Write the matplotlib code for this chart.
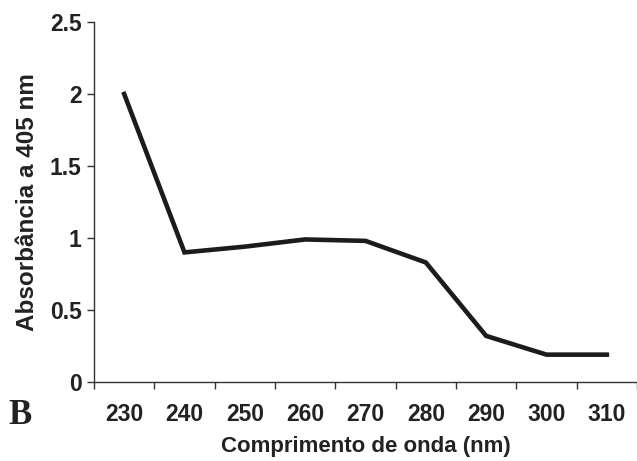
import matplotlib
matplotlib.use("Agg")
import matplotlib.pyplot as plt
import numpy as np

wavelengths = ["230", "240", "250", "260", "270", "280", "290", "300", "310"]
absorbance = [2.0, 0.90, 0.94, 0.99, 0.98, 0.83, 0.32, 0.19, 0.19]

plt.rcParams['font.family'] = ['Liberation Sans', 'DejaVu Sans']

fig = plt.figure(figsize=(6.37, 4.61), dpi=100)
ax = fig.add_axes([94/637, (461-382)/461, (637-94)/637, (382-22)/461])

x = np.arange(len(wavelengths))
ax.plot(x, absorbance, color='#1c1c1c', lw=3.3, solid_joinstyle='miter')

ax.set_xlim(-0.5, len(wavelengths) - 0.5)
ax.set_ylim(0, 2.5)

ax.set_xticks(np.arange(-0.5, len(wavelengths)), minor=False)
ax.set_xticklabels([])
ax.set_xticks(x, minor=True)
ax.set_xticklabels(wavelengths, minor=True, fontsize=16.5, fontweight='bold', color='#222222')
ax.tick_params(axis='x', which='minor', length=0, pad=15)
ax.tick_params(axis='x', which='major', length=5, width=1, direction='out', color='#333333')

ax.set_yticks([0, 0.5, 1, 1.5, 2, 2.5])
ax.set_yticklabels(['0', '0.5', '1', '1.5', '2', '2.5'], fontsize=16.5, fontweight='bold', color='#222222')
ax.tick_params(axis='y', length=5, width=1, direction='out', color='#333333', pad=4)

for s in ['top', 'right']:
    ax.spines[s].set_visible(False)
for s in ['left', 'bottom']:
    ax.spines[s].set_color('#333333')
    ax.spines[s].set_linewidth(1)

ax.set_xlabel('Comprimento de onda (nm)', fontsize=16.0, fontweight='bold', color='#222222', labelpad=7)
ax.set_ylabel('Absorbância a 405 nm', fontsize=17.5, fontweight='bold', color='#222222', labelpad=8)

fig.text(8/637, 1 - 415/461, 'B', fontsize=25, fontweight='bold', family='Liberation Serif',
         va='center', ha='left', color='#222222')

fig.savefig('out.png', dpi=100)
